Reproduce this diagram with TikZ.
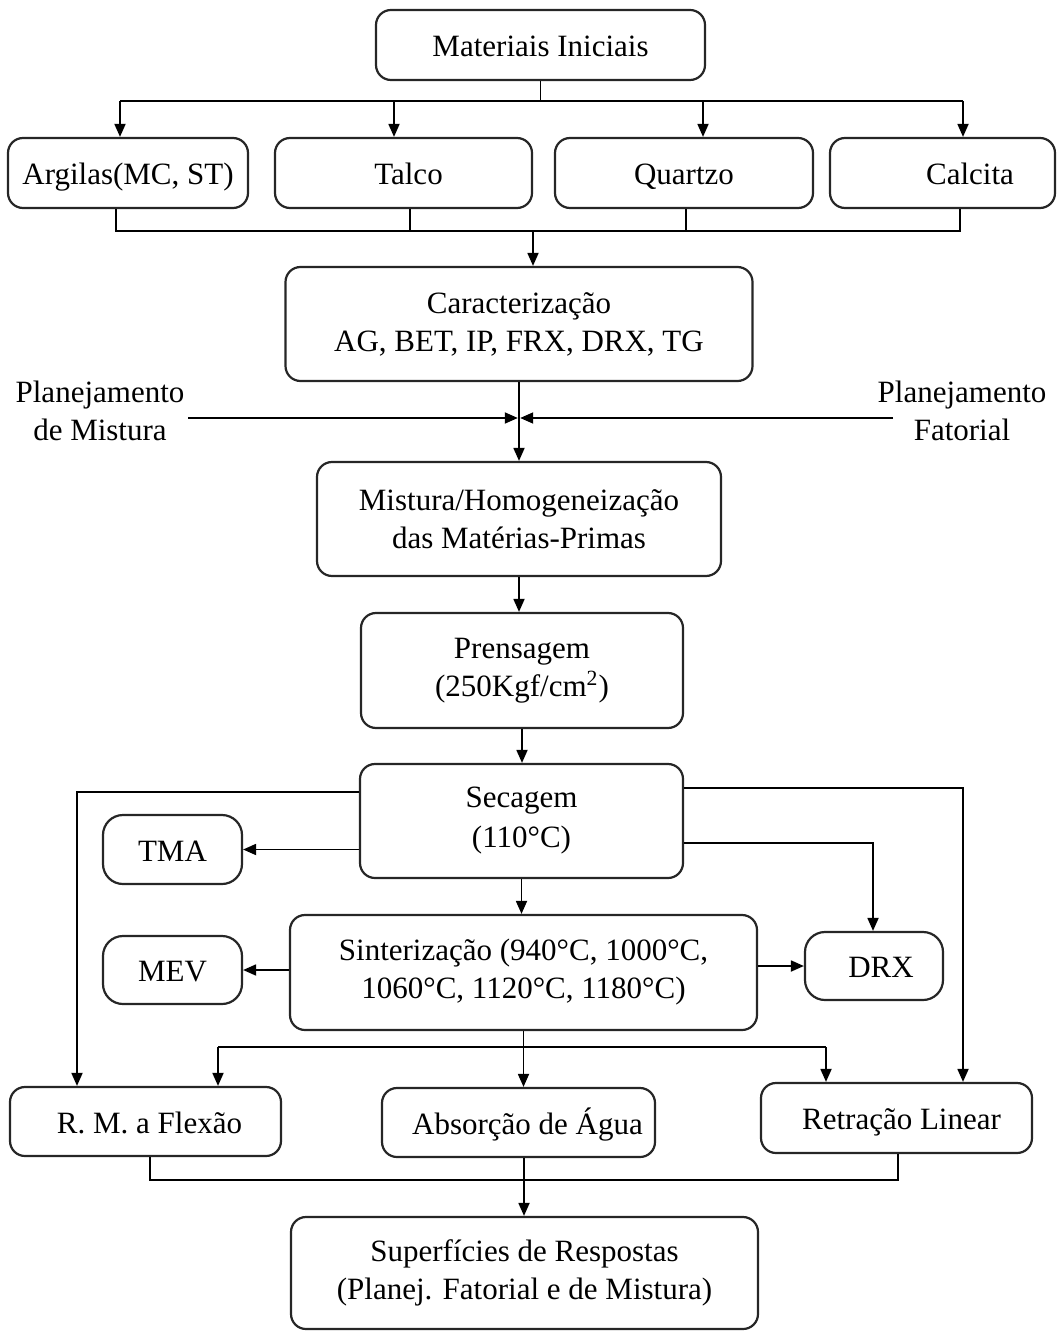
\documentclass[tikz,border=0pt]{standalone}
\usepackage{fontspec}
\setmainfont{Liberation Serif}
\usetikzlibrary{arrows.meta}
\newcommand\fs{\fontsize{15.5}{19}\selectfont}
\tikzset{
  box/.style={draw=black!85, line width=1.1pt, rounded corners=7.5pt, inner sep=0pt, align=center, font=\fs},
  one/.style={text height=13pt, text depth=1.5pt},
  sbox/.style={box, one, rounded corners=10pt},
  lbl/.style={inner sep=0pt, align=center, font=\fs},
  conn/.style={line width=0.9pt, black},
  arr/.style={conn, -{Triangle[length=6.5pt,width=5.5pt]}}
}
\begin{document}
\begin{tikzpicture}[x=0.5pt,y=-0.5pt]
\useasboundingbox (0,0) rectangle (1058,1331);
% nodes
\node[box, one, minimum width=164.5pt, minimum height=35pt] (mat) at (540.5,45) {Materiais Iniciais};
\node[box, one, minimum width=120pt, minimum height=35pt] (arg) at (128,173) {Argilas(MC, ST)};
\node[box, one, minimum width=128.5pt, minimum height=35pt] (tal) at (403.5,173) {\hspace*{5pt}Talco};
\node[box, one, minimum width=129pt, minimum height=35pt] (qua) at (684,173) {Quartzo};
\node[box, one, minimum width=112.5pt, minimum height=35pt] (cal) at (942.5,173) {\hspace*{27.5pt}Calcita};
\node[box, minimum width=233.5pt, minimum height=57pt] (car) at (519,324) {Caracterização\\AG, BET, IP, FRX, DRX, TG};
\node[lbl] (pm) at (100,411) {Planejamento\\de Mistura};
\node[lbl] (pf) at (962,411) {Planejamento\\Fatorial};
\node[box, minimum width=202pt, minimum height=57pt] (mis) at (519,519) {Mistura/Homogeneização\\das Matérias-Primas};
\node[box, minimum width=161pt, minimum height=57.5pt] (pre) at (522,670.5) {Prensagem\\(250Kgf/cm\textsuperscript{2})};
\node[box, minimum width=161.5pt, minimum height=57pt] (sec) at (521.5,821) {Secagem\\[1pt](110°C)};
\node[sbox, minimum width=69.5pt, minimum height=34.5pt] (tma) at (172.5,849.5) {TMA};
\node[box, minimum width=233.5pt, minimum height=57.5pt] (sin) at (523.5,972.5) {Sinterização (940°C, 1000°C,\\1060°C, 1120°C, 1180°C)};
\node[sbox, minimum width=69.5pt, minimum height=34pt] (mev) at (172.5,970) {MEV};
\node[sbox, minimum width=69pt, minimum height=34pt] (drx) at (874,966) {\hspace*{7pt}DRX};
\node[box, one, minimum width=135.5pt, minimum height=34.5pt] (rmf) at (145.5,1121.5) {\hspace*{4pt}R. M. a Flexão};
\node[box, one, minimum width=136.5pt, minimum height=34.5pt] (abs) at (518.5,1122.5) {\hspace*{9pt}Absorção de Água};
\node[box, one, minimum width=135.5pt, minimum height=35pt] (ret) at (896.5,1118) {\hspace*{5pt}Retração Linear};
\node[box, minimum width=233.5pt, minimum height=56pt] (sup) at (524.5,1273) {Superfícies de Respostas\\(Planej. Fatorial e de Mistura)};
% coordinates
\coordinate (b1) at (120,101);
\coordinate (b2) at (394,101);
\coordinate (b3) at (703,101);
\coordinate (b4) at (963,101);
\coordinate (c0) at (533,231);
\coordinate (c1) at (116,231);
\coordinate (c2) at (410,231);
\coordinate (c3) at (686,231);
\coordinate (c4) at (960,231);
\coordinate (mx) at (519,418);
\coordinate (pmL) at (188,418);
\coordinate (pfR) at (893,418);
\coordinate (sl) at (77,792);
\coordinate (sr) at (963,788);
\coordinate (dr) at (873,843);
\coordinate (s1) at (218,1047);
\coordinate (s2) at (826,1047);
\coordinate (r0) at (524,1180);
\coordinate (r1) at (150,1180);
\coordinate (r2) at (898,1180);
% connectors: top
\draw[conn] (mat.south) -- (mat.south |- b1);
\draw[conn] (b1) -- (b4);
\draw[arr] (b1) -- (b1 |- arg.north);
\draw[arr] (b2) -- (b2 |- tal.north);
\draw[arr] (b3) -- (b3 |- qua.north);
\draw[arr] (b4) -- (b4 |- cal.north);
\draw[conn] (c1 |- arg.south) -- (c1) -- (c4) -- (c4 |- cal.south);
\draw[conn] (c2 |- tal.south) -- (c2);
\draw[conn] (c3 |- qua.south) -- (c3);
\draw[arr] (c0) -- (c0 |- car.north);
% planejamento
\draw[arr] (car.south) -- (mis.north);
\draw[arr] (pmL) -- ([xshift=-0.6pt]mx);
\draw[arr] (pfR) -- ([xshift=0.6pt]mx);
% main column
\draw[arr] (mis.south) -- (mis.south |- pre.north);
\draw[arr] (pre.south) -- (pre.south |- sec.north);
\draw[arr] (sec.south) -- (sec.south |- sin.north);
% secagem branches
\draw[arr] (sec.west |- sl) -- (sl) -- (sl |- rmf.north);
\draw[arr] (sec.east |- sr) -- (sr) -- (sr |- ret.north);
\draw[arr] (sec.west |- tma.east) -- (tma.east);
\draw[arr] (sec.east |- dr) -- (dr) -- (dr |- drx.north);
% sinterizacao branches
\draw[arr] (sin.west |- mev.east) -- (mev.east);
\draw[arr] (sin.east |- drx.west) -- (drx.west);
\draw[conn] (s1) -- (s2);
\draw[arr] (sin.south) -- (sin.south |- abs.north);
\draw[arr] (s1) -- (s1 |- rmf.north);
\draw[arr] (s2) -- (s2 |- ret.north);
% bottom
\draw[conn] (r1 |- rmf.south) -- (r1) -- (r2) -- (r2 |- ret.south);
\draw[arr] (r0 |- abs.south) -- (r0 |- sup.north);
\end{tikzpicture}
\end{document}
